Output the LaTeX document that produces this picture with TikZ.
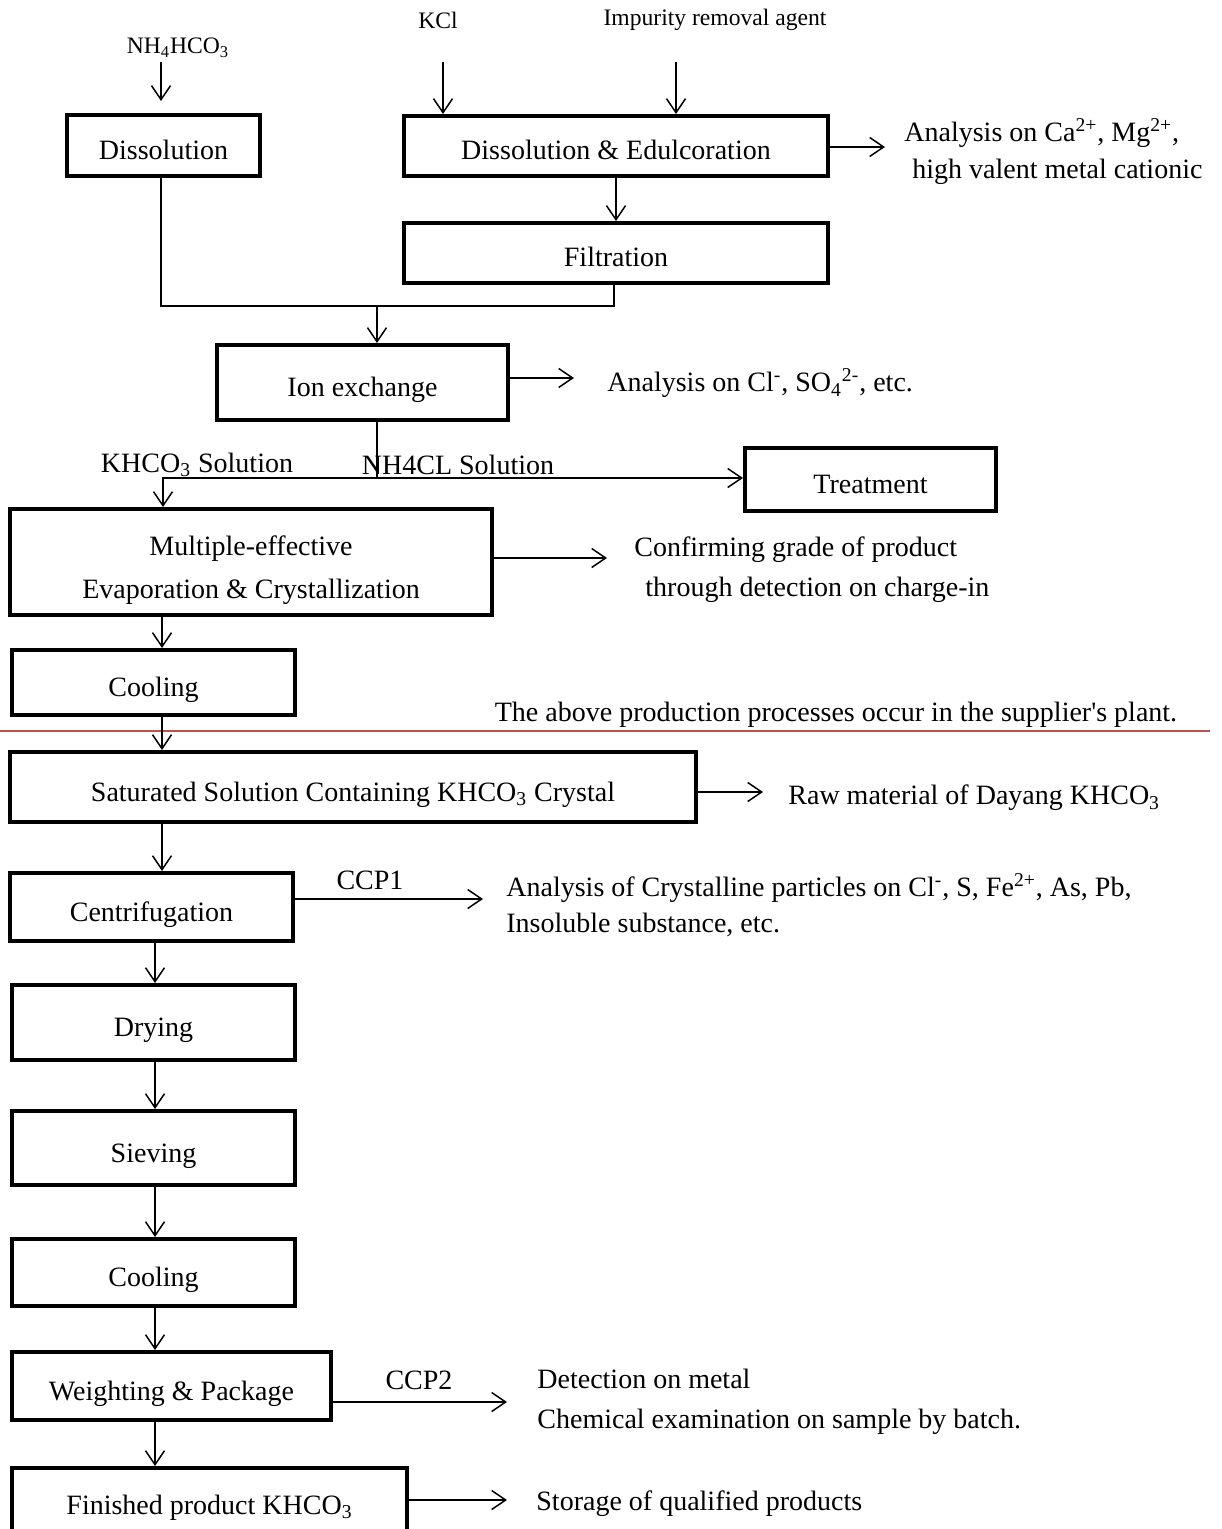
\documentclass[tikz,border=0pt]{standalone}
\usepackage{fontspec}
\setmainfont{Liberation Serif}[Ligatures=TeXOff]
\usetikzlibrary{arrows.meta}
\definecolor{sepred}{HTML}{C0504D}

\begin{document}
\begin{tikzpicture}[
  x=0.5pt, y=-0.5pt,
  box/.style={draw, line width=2pt, inner sep=0pt, align=center,
              font=\fontsize{14}{21.5}\selectfont},
  stage/.style={box, text height=14pt, text depth=0pt},
  note/.style={inner sep=0pt, anchor=west, align=left, font=\fontsize{14}{18.5}\selectfont},
  feed/.style={inner sep=0pt, font=\fontsize{11.8}{14}\selectfont},
  tag/.style={inner sep=0pt, font=\fontsize{14}{17}\selectfont},
  flow/.style={-{Straight Barb[length=7pt,width=9.5pt]}, line width=0.75pt},
  link/.style={line width=0.75pt},
  sep/.style={draw=sepred, line width=0.8pt},
]
\useasboundingbox (0,0) rectangle (1221,1529);

% ---------------- feeds ----------------
\node[feed] (nh4) at (178,48)  {NH\textsubscript{4}HCO\textsubscript{3}};
\node[feed] (kcl) at (438,20)  {KCl};
\node[feed] (imp) at (715,20)  {Impurity removal agent};

% ---------------- supplier stages ----------------
\node[stage, minimum width=96.5pt, minimum height=30.5pt] (dis)   at (163.5,145.5) {Dissolution};
\node[stage, minimum width=212pt,  minimum height=30pt]   (edul)  at (616,146)     {Dissolution \& Edulcoration};
\node[stage, minimum width=212pt,  minimum height=30pt]   (filt)  at (616,253)     {Filtration};
\node[stage, minimum width=145.5pt,minimum height=37.5pt] (ion)   at (362.5,382.5) {Ion exchange};
\node[stage, minimum width=125.5pt,minimum height=31.5pt] (treat) at (870.5,479.5) {Treatment};
\node[box,   minimum width=241pt,  minimum height=53pt]   (multi) at (251,562)     {\rule{0pt}{18pt}Multiple-effective\\Evaporation \& Crystallization};
\node[stage, minimum width=141.5pt,minimum height=32.5pt] (cool)  at (153.5,682.5) {Cooling};

% ---------------- plant stages ----------------
\node[stage, minimum width=343pt,  minimum height=35pt]   (sat)   at (353,787)     {Saturated Solution Containing KHCO\textsubscript{3} Crystal};
\node[stage, minimum width=141.5pt,minimum height=34pt]   (centr) at (151.5,907)   {Centrifugation};
\node[stage, minimum width=141.5pt,minimum height=37.5pt] (dry)   at (153.5,1022.5){Drying};
\node[stage, minimum width=141.5pt,minimum height=37pt]   (sieve) at (153.5,1148)  {Sieving};
\node[stage, minimum width=141.5pt,minimum height=33.5pt] (cooltwo) at (153.5,1272.5){Cooling};
\node[stage, minimum width=159.5pt,minimum height=34pt]   (weigh) at (171.5,1386)  {Weighting \& Package};
\node[stage, minimum width=197.5pt,minimum height=32pt]   (fin)   at (209.5,1500)  {Finished product KHCO\textsubscript{3}};

% ---------------- notes ----------------
\node[note] (anaca)  at (904,151.5) {Analysis on Ca\textsuperscript{2+}, Mg\textsuperscript{2+},\\\hspace*{4pt}high valent metal cationic};
\node[note] (anacl)  at (607,383)   {Analysis on Cl\textsuperscript{-}, SO\textsubscript{4}\textsuperscript{2-}, etc.};
\node[note, font=\fontsize{14}{20}\selectfont] (grade) at (634,570) {Confirming grade of product\\\hspace*{5.5pt}through detection on charge-in};
\node[tag]  (above)  at (836,715)   {The above production processes occur in the supplier's plant.};
\node[note] (raw)    at (788,798)   {Raw material of Dayang KHCO\textsubscript{3}};
\node[note, font=\fontsize{14}{18}\selectfont] (cryst) at (506,905) {Analysis of Crystalline particles on Cl\textsuperscript{-}, S, Fe\textsuperscript{2+}, As, Pb,\\Insoluble substance, etc.};
\node[note, font=\fontsize{14}{20}\selectfont] (detect) at (537,1402) {Detection on metal\\Chemical examination on sample by batch.};
\node[note] (store)  at (536,1504)  {Storage of qualified products};
\node[tag]  (khco)   at (197,465)   {KHCO\textsubscript{3} Solution};
\node[tag]  (nhcl)   at (458,465)   {NH4CL Solution};
\node[tag]  (ccpone) at (370,880)   {CCP1};
\node[tag]  (ccptwo) at (419,1380)  {CCP2};

% ---------------- junctions and tips ----------------
\coordinate (nh4in) at (161,62);
\coordinate (kclin) at (443,62);
\coordinate (impin) at (676,62);
\coordinate (joinl) at (161,306);
\coordinate (joinm) at (377,306);
\coordinate (joinr) at (614,306);
\coordinate (splitm) at (377,478);
\coordinate (splitl) at (163,478);
\coordinate (cola) at (162,0);
\coordinate (colb) at (155,0);
\coordinate (tipca) at (885,147);
\coordinate (tipcl) at (574,378);
\coordinate (tipgr) at (607,558);
\coordinate (tipraw) at (763,792);
\coordinate (tipcry) at (483,899);
\coordinate (tipdet) at (507,1402);
\coordinate (tipsto) at (507,1500);

% ---------------- separator ----------------
\draw[sep] (0,731) -- (1210,731);

% ---------------- feeds in ----------------
\draw[flow, shorten >=6pt] (nh4in) -- (nh4in |- dis.north);
\draw[flow] (kclin) -- (kclin |- edul.north);
\draw[flow] (impin) -- (impin |- edul.north);

% ---------------- supplier chain ----------------
\draw[flow] (edul) -- (filt);
\draw[link] (dis.south -| joinl) -- (joinl) -- (joinr) -- (filt.south -| joinr);
\draw[flow] (joinm) -- (joinm |- ion.north);
\draw[link] (ion.south -| splitm) -- (splitm);
\draw[flow] (splitm) -- (splitl) -- (splitl |- multi.north);
\draw[flow] (splitm) -- (splitm -| treat.west);
\draw[flow] (multi.south -| cola) -- (cola |- cool.north);
\draw[flow] (cool.south -| cola) -- (cola |- sat.north);

% ---------------- plant chain ----------------
\draw[flow] (sat.south -| cola) -- (cola |- centr.north);
\draw[flow] (centr.south -| colb) -- (colb |- dry.north);
\draw[flow] (dry.south -| colb) -- (colb |- sieve.north);
\draw[flow] (sieve.south -| colb) -- (colb |- cooltwo.north);
\draw[flow] (cooltwo.south -| colb) -- (colb |- weigh.north);
\draw[flow] (weigh.south -| colb) -- (colb |- fin.north);

% ---------------- checks ----------------
\draw[flow] (edul.east |- tipca) -- (tipca);
\draw[flow] (ion.east |- tipcl) -- (tipcl);
\draw[flow] (multi.east |- tipgr) -- (tipgr);
\draw[flow] (sat.east |- tipraw) -- (tipraw);
\draw[flow] (centr.east |- tipcry) -- (tipcry);
\draw[flow] (weigh.east |- tipdet) -- (tipdet);
\draw[flow] (fin.east |- tipsto) -- (tipsto);
\end{tikzpicture}
\end{document}
